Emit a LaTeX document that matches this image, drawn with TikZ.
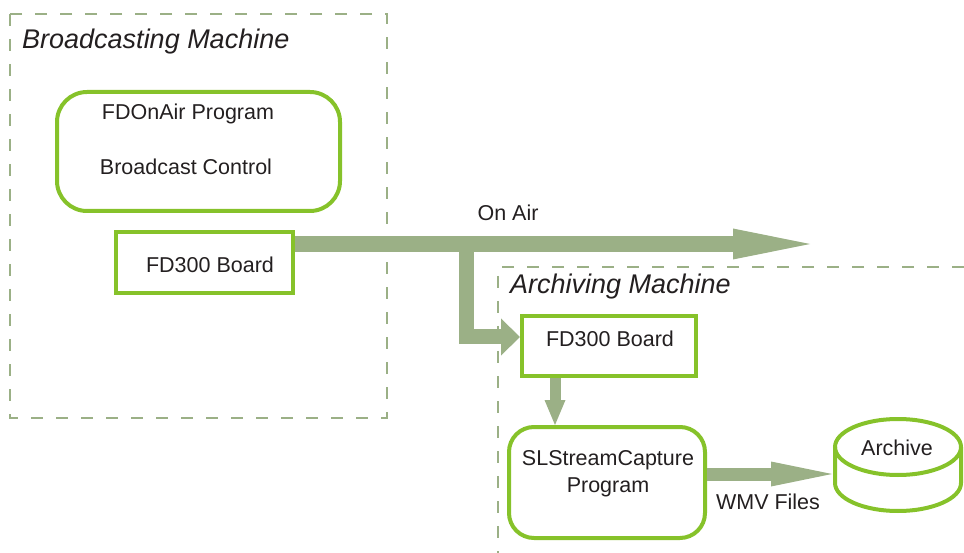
\documentclass[tikz,border=0pt]{standalone}
\usepackage{fontspec}
\setmainfont{Liberation Sans}
\usetikzlibrary{arrows.meta}

\definecolor{boxgreen}{RGB}{134,194,42}
\definecolor{flowgreen}{RGB}{155,176,134}
\definecolor{txt}{RGB}{35,31,32}

\begin{document}
\begin{tikzpicture}[x=1pt,y=1pt]

% Define styles
\tikzstyle{machine}=[draw=flowgreen, line width=2.2pt, dash pattern=on 12pt off 13pt]
\tikzstyle{title}=[font=\fontsize{27}{32}\selectfont\itshape, text=txt, anchor=west, inner sep=0pt]
\tikzstyle{label}=[font=\fontsize{21.5}{26}\selectfont, text=txt, inner sep=0pt]
\tikzstyle{board}=[draw=boxgreen, line width=4pt, inner sep=0pt]
\tikzstyle{program}=[board, rounded corners=30pt]
\tikzstyle{flow}=[draw=flowgreen, line cap=butt, line join=miter]

\useasboundingbox (0,0) rectangle (964,-553);

% Machines
\draw[machine] (10,-14) rectangle (387,-418);
\draw[machine] (964,-267) -- (498,-267) -- (498,-553);
\node[title] (bcast) at (22,-42) {Broadcasting Machine};
\node[title] (arch) at (510,-287) {Archiving Machine};

% Broadcasting side
\node[program, minimum width=283pt, minimum height=119pt] (onair) at (198.5,-151.5) {};
\node[label] (prog) at (188,-114) {FDOnAir Program};
\node[label] (ctrl) at (186,-167) {Broadcast Control};
\node[board, minimum width=177pt, minimum height=61pt] (fd1) at (204.5,-262.5) {};
\node[label] (fd1txt) at (210,-265) {FD300 Board};

% Archiving side
\node[board, minimum width=174pt, minimum height=60pt] (fd2) at (609,-346) {};
\node[label] (fd2txt) at (610,-339) {FD300 Board};
\node[program, rounded corners=25pt, minimum width=196pt, minimum height=111pt] (cap) at (607,-482.5) {};
\node[label] (captxt) at (608,-460) {SLStreamCapture};
\node[label] (captxt2) at (608,-487) {Program};

% Archive store
\draw[board] (835,-447) -- (835,-483) arc[start angle=180, end angle=360, x radius=63, y radius=28] -- (961,-447);
\draw[board] (898,-447) ellipse[x radius=63, y radius=28];
\node[label] (archive) at (897,-448) {Archive};

% Flows
\coordinate (airend) at (810,-244);
\coordinate (branch) at (466,-244);
\coordinate (arcin) at (832,-474);
\draw[flow, line width=16pt, -{Triangle[length=77pt,width=31pt,line width=0pt]}] (fd1.east |- airend) -- (airend);
\draw[flow, line width=15pt, -{Triangle[length=19pt,width=37pt,line width=0pt]}] (branch) |- ([yshift=9pt]fd2.west);
\draw[flow, line width=11pt, -{Triangle[length=25pt,width=21pt,line width=0pt]}] ([xshift=-54pt]fd2.south) -- ([xshift=-52pt]cap.north);
\draw[flow, line width=13pt, -{Triangle[length=61pt,width=25pt,line width=0pt]}] (cap.east |- arcin) -- (arcin);
\node[label] (air) at (508,-213) {On Air};
\node[label] (wmv) at (768,-502) {WMV Files};

\end{tikzpicture}
\end{document}
